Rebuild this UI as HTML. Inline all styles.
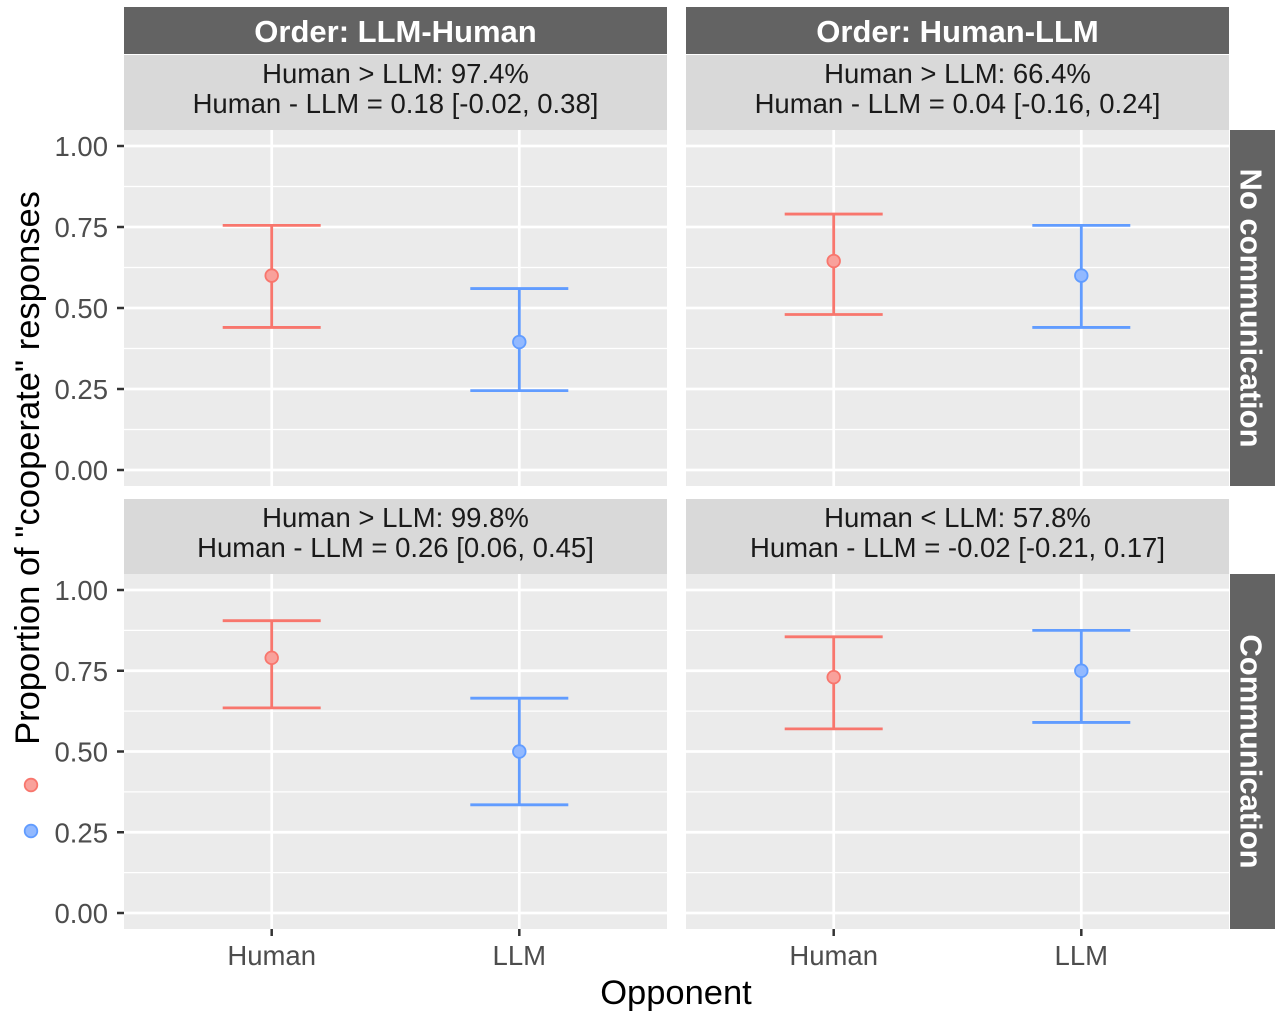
<!DOCTYPE html>
<html><head><meta charset="utf-8"><style>
body{margin:0;background:#fff}
svg text{font-family:"Liberation Sans",Arial,sans-serif}
</style></head><body>
<svg id="c" width="1281" height="1014" xmlns="http://www.w3.org/2000/svg"></svg>
<script>
const categories=["Human","LLM"];
const yTicks=[0,0.25,0.5,0.75,1.0];
const yTickLabels=["0.00","0.25","0.50","0.75","1.00"];
const colTitles=["Order: LLM-Human","Order: Human-LLM"];
const rowTitles=["No communication","Communication"];
const subTitles=[["Human > LLM: 97.4%","Human - LLM = 0.18 [-0.02, 0.38]"],["Human > LLM: 66.4%","Human - LLM = 0.04 [-0.16, 0.24]"],["Human > LLM: 99.8%","Human - LLM = 0.26 [0.06, 0.45]"],["Human < LLM: 57.8%","Human - LLM = -0.02 [-0.21, 0.17]"]];
const means=[[0.60,0.395],[0.645,0.60],[0.79,0.50],[0.73,0.75]];
const lows=[[0.44,0.245],[0.48,0.44],[0.635,0.335],[0.57,0.59]];
const highs=[[0.755,0.56],[0.79,0.755],[0.905,0.665],[0.855,0.875]];
const colors=["#F8766D","#619CFF"];
const fills=["#F9A19B","#92B9FF"];

const svg=document.getElementById('c');
const NS="http://www.w3.org/2000/svg";
function el(t,a,p){const e=document.createElementNS(NS,t);for(const k in a)e.setAttribute(k,a[k]);(p||svg).appendChild(e);return e;}
const panelX=[124,686],panelW=543;
const panelY=[130,574],panelH=[356,355];
const y0=[470,913],y1=[146,590];
function xScale(c,i){return panelX[c]+panelW*(0.272+i*0.456);}
function yScale(r,v){return y0[r]+(y1[r]-y0[r])*v;}

for(let c=0;c<2;c++){
  let g=el('rect',{x:panelX[c],y:7,width:panelW,height:47,fill:'#636363'});
  
  
  let t=el('text',{x:panelX[c]+panelW/2,y:42,'text-anchor':'middle','font-size':31,'font-weight':'bold',fill:'#fff'});
  t.textContent=colTitles[c];
  
  
}
for(let r=0;r<2;r++){
  let g=el('rect',{x:1230,y:panelY[r],width:45,height:panelH[r],fill:'#636363'});
  
  
  let cx=1251,cy=panelY[r]+panelH[r]/2;
  let t=el('text',{x:cx,y:cy,'text-anchor':'middle','dominant-baseline':'central','font-size':31,'font-weight':'bold',fill:'#fff',transform:`rotate(90 ${cx} ${cy})`});
  t.textContent=rowTitles[r];
  
  
}
for(let r=0;r<2;r++)for(let c=0;c<2;c++){
  const k=r*2+c;
  const sy=panelY[r]-75;
  let s=el('rect',{x:panelX[c],y:sy,width:panelW,height:75,fill:'#d9d9d9'});
  
  
  for(let j=0;j<2;j++){
    let t=el('text',{x:panelX[c]+panelW/2,y:sy+28+j*30,'text-anchor':'middle','font-size':27.5,fill:'#1a1a1a'});
    t.textContent=subTitles[k][j];
    
    
  }
  let p=el('rect',{x:panelX[c],y:panelY[r],width:panelW,height:panelH[r],fill:'#ebebeb'});
  
  
  for(let i=0;i<yTicks.length-1;i++){
    let v=(yTicks[i]+yTicks[i+1])/2;
    el('line',{x1:panelX[c],x2:panelX[c]+panelW,y1:yScale(r,v),y2:yScale(r,v),stroke:'#fff','stroke-width':1.3});
  }
  yTicks.forEach(v=>{let l=el('line',{x1:panelX[c],x2:panelX[c]+panelW,y1:yScale(r,v),y2:yScale(r,v),stroke:'#fff','stroke-width':2.7});
    
    });
  categories.forEach((cat,i)=>{let l=el('line',{x1:xScale(c,i),x2:xScale(c,i),y1:panelY[r],y2:panelY[r]+panelH[r],stroke:'#fff','stroke-width':2.7});
    
    });
  categories.forEach((cat,i)=>{
    const x=xScale(c,i),hw=49;
    const g=el('g',{});
    
    
    const a={stroke:colors[i],'stroke-width':2.8};
    el('line',Object.assign({x1:x,x2:x,y1:yScale(r,lows[k][i]),y2:yScale(r,highs[k][i])},a),g);
    el('line',Object.assign({x1:x-hw,x2:x+hw,y1:yScale(r,lows[k][i]),y2:yScale(r,lows[k][i])},a),g);
    el('line',Object.assign({x1:x-hw,x2:x+hw,y1:yScale(r,highs[k][i]),y2:yScale(r,highs[k][i])},a),g);
    let pt=el('circle',{cx:x,cy:yScale(r,means[k][i]),r:6.3,fill:fills[i],stroke:colors[i],'stroke-width':1.8},g);
    
    
  });
}
for(let r=0;r<2;r++){
  yTicks.forEach((v,i)=>{
    el('line',{x1:117,x2:124,y1:yScale(r,v),y2:yScale(r,v),stroke:'#333','stroke-width':2.5});
    let t=el('text',{x:108,y:yScale(r,v)+10,'text-anchor':'end','font-size':27.5,fill:'#4d4d4d'});
    t.textContent=yTickLabels[i];
    
    
  });
}
for(let c=0;c<2;c++)categories.forEach((cat,i)=>{
  el('line',{x1:xScale(c,i),x2:xScale(c,i),y1:929,y2:936,stroke:'#333','stroke-width':2.5});
  let t=el('text',{x:xScale(c,i),y:965,'text-anchor':'middle','font-size':27.5,fill:'#4d4d4d'});
  t.textContent=cat;
  
  
});
let xt=el('text',{x:676,y:1004,'text-anchor':'middle','font-size':34.5,fill:'#000'});
xt.textContent='Opponent';


let yt=el('text',{x:39,y:468,'text-anchor':'middle','font-size':34.5,fill:'#000',transform:'rotate(-90 39 468)'});
yt.textContent='Proportion of "cooperate" responses';


[[785,0],[831,1]].forEach(([y,i])=>{
  let d=el('circle',{cx:31,cy:y,r:6.3,fill:fills[i],stroke:colors[i],'stroke-width':1.8});
  
  
});
</script>
</body></html>
